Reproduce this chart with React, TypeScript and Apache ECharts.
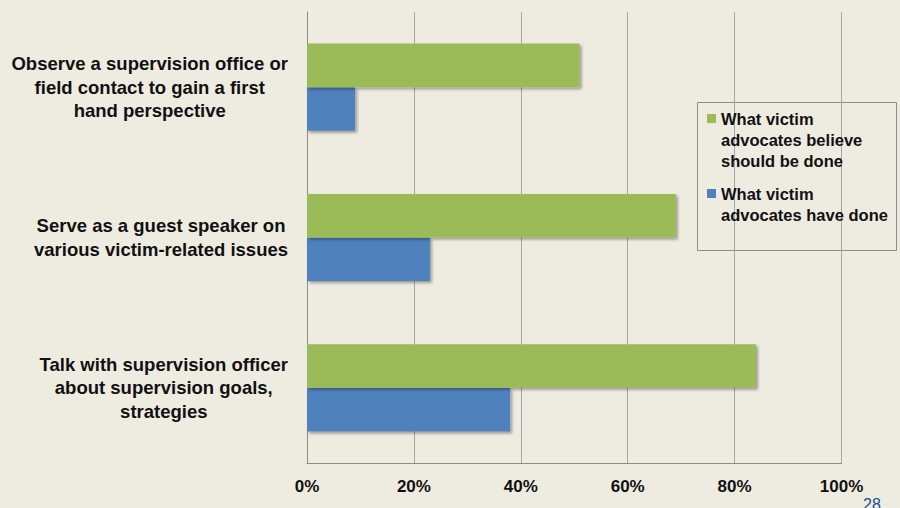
import React, { useEffect, useRef } from "react";
import * as echarts from "echarts";

const categories: string[] = [
  "Observe a supervision office or\nfield contact to gain a first\nhand perspective",
  "Serve as a guest speaker on\nvarious victim-related issues",
  "Talk with supervision officer\nabout supervision goals,\nstrategies",
];
const seriesNames: string[] = [
  "What victim\nadvocates believe\nshould be done",
  "What victim\nadvocates have done",
];
const believeValues: number[] = [51, 69, 84];
const doneValues: number[] = [9, 23, 38];
const xTicks = { min: 0, max: 100, interval: 20 };
const pageNumber = "28";

const BG = "#EEECE1";
const GREEN = "#9BBB59";
const BLUE = "#4F81BD";
const FONT = "'Liberation Sans', Arial, sans-serif";

export default function App() {
  const ref = useRef<HTMLDivElement>(null);
  useEffect(() => {
    if (!ref.current) return;
    const chart = echarts.init(ref.current, undefined, { renderer: "svg" });
    const shadow = {
      shadowBlur: 3,
      shadowOffsetX: 2,
      shadowOffsetY: 2,
      shadowColor: "rgba(0,0,0,0.35)",
    };
    chart.setOption({
      animation: false,
      backgroundColor: BG,
      textStyle: { fontFamily: FONT },
      grid: { left: 307, right: 58.5, top: 12, bottom: 45, containLabel: false },
      xAxis: {
        type: "value",
        min: xTicks.min,
        max: xTicks.max,
        interval: xTicks.interval,
        axisLine: { show: true, lineStyle: { color: "#8C8C8C", width: 1 } },
        axisTick: { show: false },
        splitLine: { show: true, lineStyle: { color: "#A6A6A6", width: 1 } },
        axisLabel: {
          formatter: "{value}%",
          margin: 15,
          fontSize: 17,
          fontWeight: "bold",
          color: "#111",
          fontFamily: FONT,
        },
      },
      yAxis: {
        type: "category",
        inverse: true,
        data: categories,
        axisLine: { show: true, lineStyle: { color: "#8C8C8C", width: 1 } },
        axisTick: { show: false },
        axisLabel: {
          margin: 19,
          align: "right",
          color: "#111",
          fontSize: 18.5,
          fontWeight: "bold",
          fontFamily: FONT,
          formatter: (v: string) =>
            v
              .split("\n")
              .map((l) => `{c|${l}}`)
              .join("\n"),
          rich: {
            c: {
              align: "center",
              fontSize: 18.5,
              fontWeight: "bold",
              lineHeight: 23.5,
              color: "#111",
              fontFamily: FONT,
            },
          },
        },
      },
      legend: {
        orient: "vertical",
        left: 707,
        top: 66,
        padding: 0,
        itemWidth: 9,
        itemHeight: 9,
        itemGap: -9,
        icon: "rect",
        selectedMode: false,
        formatter: (name: string) => {
          const n = name.split("\n").length;
          return "\n".repeat(n - 1) + name;
        },
        textStyle: {
          fontSize: 16.5,
          fontWeight: "bold",
          color: "#111",
          lineHeight: 21,
          fontFamily: FONT,
        },
        data: seriesNames,
      },
      graphic: [
        {
          type: "rect",
          z: -1,
          zlevel: 0,
          shape: { x: 697.5, y: 102.5, width: 199, height: 148 },
          style: { fill: BG, stroke: "#8C8C8C", lineWidth: 1 },
          silent: true,
        },
        {
          type: "text",
          x: 863,
          y: 496,
          style: {
            text: pageNumber,
            fill: "#1F4E8C",
            font: `16px ${FONT}`,
            verticalAlign: "top",
          },
          silent: true,
        },
      ],
      series: [
        {
          name: seriesNames[0],
          type: "bar",
          data: believeValues,
          barGap: "0%",
          barCategoryGap: "42%",
          itemStyle: { color: GREEN, ...shadow },
          z: 3,
        },
        {
          name: seriesNames[1],
          type: "bar",
          data: doneValues,
          barGap: "0%",
          barCategoryGap: "42%",
          itemStyle: { color: BLUE, ...shadow },
          z: 2,
        },
      ],
    });
    return () => chart.dispose();
  }, []);
  return (
    <div
      ref={ref}
      style={{ position: "fixed", left: 0, top: 0, width: 900, height: 508 }}
    />
  );
}
